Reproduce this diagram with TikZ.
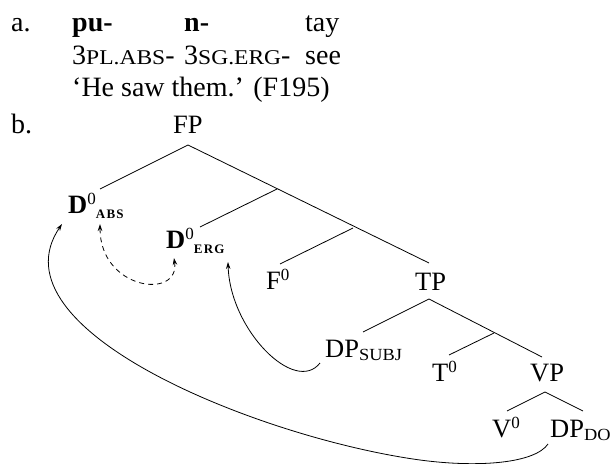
\documentclass[tikz,border=0pt]{standalone}
\usepackage{fontspec}
\setmainfont{Liberation Serif}
\usetikzlibrary{arrows.meta}
\newcommand\mysc[1]{{\fontsize{21}{21}\selectfont\addfontfeature{FakeStretch=1.12}#1}}
\newcommand\treesc[1]{{\fontsize{17}{17}\selectfont\addfontfeature{FakeStretch=1.08}#1}}
\newcommand\supz{\raisebox{9pt}{\fontsize{17}{17}\selectfont 0}}
\newcommand\bsub[1]{\raisebox{-5pt}{\fontsize{13}{13}\selectfont\bfseries\addfontfeature{LetterSpace=10}#1}}
\begin{document}
\begin{tikzpicture}[x=1pt,y=-1pt,
  txt/.style={inner sep=0pt, anchor=base west, font=\fontsize{28}{32}\selectfont},
  lab/.style={inner sep=0pt, anchor=base west, font=\fontsize{26.5}{30}\selectfont},
  br/.style={line width=0.8pt},
  arr/.style={line width=0.8pt, -{Stealth[length=7pt,width=4.5pt]}},
  darr/.style={line width=0.8pt, dash pattern=on 5pt off 4pt, {Stealth[length=7pt,width=4.5pt]}-{Stealth[length=7pt,width=4.5pt]}}
]
\useasboundingbox (0,0) rectangle (612,463);
% example
\node[txt] (a) at (11,31) {a.};
\node[txt] (pu) at (72,31) {\textbf{pu-}};
\node[txt] (n) at (184,31) {\textbf{n-}};
\node[txt] (tay) at (305,31) {tay};
\node[txt] (g1) at (72,64) {3\mysc{PL.ABS}-};
\node[txt] (g2) at (184,64) {3\mysc{SG.ERG}-};
\node[txt] (g3) at (305,64) {see};
\node[txt] (tr) at (72,96) {‘He saw them.’ (F195)};
\node[txt] (b) at (11,133) {b.};
% tree labels
\node[lab] (FP) at (173,133) {FP};
\node[lab] (dabs) at (68,213) {\textbf{D}\supz\bsub{ABS}};
\node[lab] (derg) at (166,248) {\textbf{D}\supz\bsub{ERG}};
\node[lab] (f0) at (266,289) {F\supz};
\node[lab] (TP) at (415,290) {TP};
\node[lab] (dps) at (325,357) {DP\raisebox{-3pt}{\treesc{SUBJ}}};
\node[lab] (t0) at (432,381) {T\supz};
\node[lab] (VP) at (530,381) {VP};
\node[lab] (v0) at (492,437) {V\supz};
\node[lab] (dpdo) at (550,437) {DP\raisebox{-3pt}{\treesc{DO}}};
% branch points
\coordinate (fpA) at (188,145);
\coordinate (dabsT) at (100,189);
\coordinate (j1) at (277,189);
\coordinate (dergT) at (200,227);
\coordinate (j2) at (353,228);
\coordinate (f0T) at (280,264);
\coordinate (tpT) at (429,263);
\coordinate (tpA) at (429,299);
\coordinate (dpsT) at (363,332);
\coordinate (j3) at (494,333);
\coordinate (t0T) at (449,355);
\coordinate (vpT) at (542,357);
\coordinate (vpA) at (545,392);
\coordinate (v0T) at (507,411);
\coordinate (dpdoT) at (583,411);
\draw[br] (dabsT) -- (fpA) -- (tpT);
\draw[br] (dergT) -- (j1);
\draw[br] (f0T) -- (j2);
\draw[br] (dpsT) -- (tpA) -- (vpT);
\draw[br] (t0T) -- (j3);
\draw[br] (v0T) -- (vpA) -- (dpdoT);
% movement arrows
\coordinate (dpsS) at (320,363);
\coordinate (dergS) at (228,262);
\coordinate (dpdoS) at (548,444);
\coordinate (bot) at (420,460);
\coordinate (dabsS) at (62,224);
\coordinate (dabsD) at (100,224);
\coordinate (dergD) at (174,258);
\draw[arr] (dpsS) .. controls (295,395) and (230,330) .. (dergS);
\draw[arr] (dpdoS) .. controls (535,463) and (480,468) .. (bot) .. controls (260,438) and (-10,330) .. (dabsS);
\draw[darr] (dabsD) .. controls (100,290) and (180,300) .. (dergD);
\end{tikzpicture}
\end{document}
